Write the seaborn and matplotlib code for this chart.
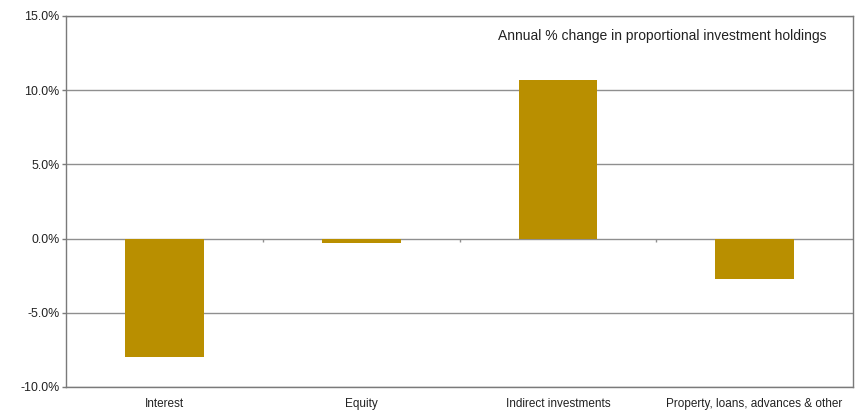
import matplotlib
matplotlib.use("Agg")
import matplotlib.pyplot as plt
import seaborn as sns
import pandas as pd
from matplotlib.ticker import FuncFormatter

categories = ["Interest", "Equity", "Indirect investments", "Property, loans, advances & other"]
changes = [-8.0, -0.3, 10.7, -2.7]
y_ticks = [-10, -5, 0, 5, 10, 15]
title = "Annual % change in proportional investment holdings"

bar_color = "#B98F00"
line_color = "#8f8f8f"

sns.set_theme(style="white")
plt.rcParams["font.family"] = ["Liberation Sans", "DejaVu Sans"]

df = pd.DataFrame({"category": categories, "change": changes})

fig = plt.figure(figsize=(8.64, 4.12), dpi=100)
ax = fig.add_axes([0.0767, 0.0607, 0.9103, 0.9005])

sns.barplot(data=df, x="category", y="change", color=bar_color,
            saturation=1, width=0.4, linewidth=0, ax=ax, zorder=3)

ax.set_ylim(y_ticks[0], y_ticks[-1])
ax.set_xlim(-0.5, len(categories) - 0.5)
ax.set_yticks(y_ticks)
ax.yaxis.set_major_formatter(FuncFormatter(lambda v, _: f"{v:.1f}%"))
ax.set_xlabel("")
ax.set_ylabel("")

# horizontal gridlines including the zero line
for v in y_ticks:
    ax.axhline(v, color=line_color, lw=1.0, zorder=1)

# small category separator ticks on the zero line
seps = [i + 0.5 for i in range(len(categories) - 1)]
ax.vlines(seps, 0, -0.25, color=line_color, lw=1.0, zorder=2)

for s in ax.spines.values():
    s.set_visible(True)
    s.set_color("#7a7a7a")
    s.set_linewidth(1.0)

ax.tick_params(axis="y", which="major", left=True, length=3, width=1.0,
               color="#7a7a7a", pad=2, labelsize=8.9, labelcolor="#222222")
ax.tick_params(axis="x", which="major", bottom=False, length=0, pad=8,
               labelsize=8.5, labelcolor="#222222")

ax.text(0.967, 0.946, title, transform=ax.transAxes, ha="right", va="center",
        fontsize=10, color="#222222")

fig.savefig("out.png", dpi=100)
